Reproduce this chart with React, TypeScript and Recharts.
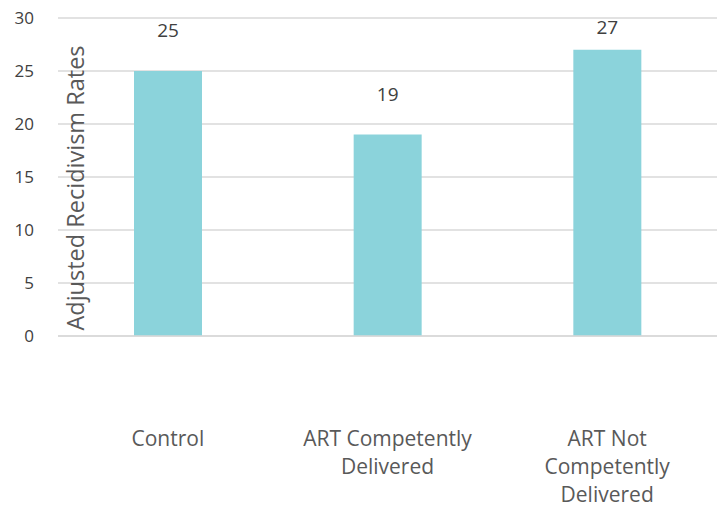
import { BarChart, Bar, XAxis, YAxis, CartesianGrid, LabelList } from "recharts";

const categories = ["Control", "ART Competently Delivered", "ART Not Competently Delivered"];
const categoryLines = [["Control"], ["ART Competently", "Delivered"], ["ART Not", "Competently", "Delivered"]];
const rates = [25, 19, 27];
const yTicks = [0, 5, 10, 15, 20, 25, 30];

const data = categories.map((name, i) => ({ name, rate: rates[i] }));

const FONT = "'Open Sans', sans-serif";

function CategoryTick(props: any) {
  const { x, y, payload } = props;
  const lines = categoryLines[payload.index] ?? [payload.value];
  return (
    <text x={x} y={y} textAnchor="middle" fill="#595959" fontSize={21} fontFamily={FONT}>
      {lines.map((l, i) => (
        <tspan key={i} x={x} dy={i === 0 ? 102 : 28}>
          {l}
        </tspan>
      ))}
    </text>
  );
}

function ValueLabel(props: any) {
  const { x, y, width, value } = props;
  return (
    <text
      x={x + width / 2}
      y={Math.max(y - 41, 27)}
      textAnchor="middle"
      dominantBaseline="central"
      fill="#404040"
      fontSize={19}
      fontFamily={FONT}
    >
      {value}
    </text>
  );
}

function AxisTitle(props: any) {
  const { viewBox } = props;
  const cx = viewBox.x + viewBox.width + 17;
  const cy = viewBox.y + viewBox.height / 2 + 11;
  return (
    <text
      x={cx}
      y={cy}
      transform={`rotate(-90, ${cx}, ${cy})`}
      textAnchor="middle"
      dominantBaseline="central"
      fill="#595959"
      fontSize={23.5}
      fontFamily={FONT}
    >
      Adjusted Recidivism Rates
    </text>
  );
}

export default function App() {
  return (
    <div style={{ position: "absolute", left: 0, top: 0, width: 717, height: 506, background: "#fff" }}>
      <BarChart width={717} height={506} data={data} margin={{ top: 18, right: 0, left: 0, bottom: 0 }}>
        <CartesianGrid vertical={false} stroke="#d9d9d9" strokeWidth={1.5} />
        <XAxis
          dataKey="name"
          height={170}
          axisLine={{ stroke: "#d9d9d9", strokeWidth: 1.5 }}
          tickLine={false}
          interval={0}
          tick={<CategoryTick />}
        />
        <YAxis
          width={58}
          domain={[0, 30]}
          ticks={yTicks}
          axisLine={false}
          tickLine={false}
          tickSize={0}
          tickMargin={24}
          tick={{ fill: "#404040", fontSize: 17, fontFamily: FONT }}
          label={<AxisTitle />}
        />
        <Bar dataKey="rate" fill="#8bd3db" barSize={68} isAnimationActive={false}>
          <LabelList dataKey="rate" content={<ValueLabel />} />
        </Bar>
      </BarChart>
    </div>
  );
}
